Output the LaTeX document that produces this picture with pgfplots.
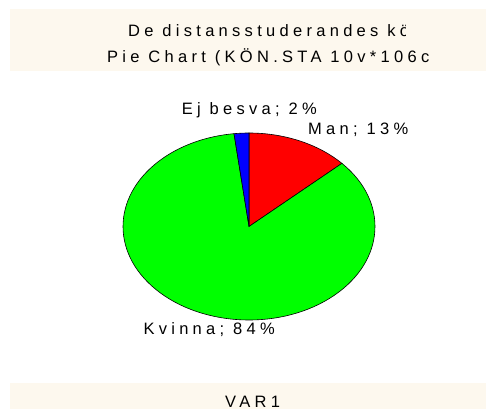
\documentclass[border=0pt]{standalone}
\usepackage{fontspec}
\setmainfont{Liberation Sans}
\newfontfamily\lab[LetterSpace=26]{Liberation Sans}
\usepackage{pgfplots}
\usepackage{pgfplotstable}
\pgfplotsset{compat=1.18}
\definecolor{beige}{HTML}{FDF8EE}
\pgfplotstableread{
label   value
Man     13.2
Kvinna  84.9
Ejbesva 1.9
}\piedata
\begin{document}%
\begin{tikzpicture}[x=1pt,y=1pt,every node/.style={anchor=base west,inner sep=0pt,font=\lab\fontsize{16.5}{19}\selectfont}]
\pgfplotstablegetelem{0}{value}\of\piedata \let\vA\pgfplotsretval
\pgfplotstablegetelem{1}{value}\of\piedata \let\vB\pgfplotsretval
\pgfplotstablegetelem{2}{value}\of\piedata \let\vC\pgfplotsretval
\pgfmathsetmacro\aA{90}
\pgfmathsetmacro\aB{\aA-3.6*\vA}
\pgfmathsetmacro\aC{\aB-3.6*\vB}
\pgfmathsetmacro\aD{\aC-3.6*\vC}
\useasboundingbox (0,0) rectangle (486,409);
\fill[beige] (10,337.5) rectangle (486,400);
\fill[beige] (10,0) rectangle (486,25.7);
\begin{scope}
\clip (0,330) rectangle (405.5,409);
\node at (128,372.3) {De distansstuderandes kön};
\end{scope}
\begin{scope}
\clip (0,330) rectangle (429,409);
\node at (107,346) {Pie Chart (KÖN.STA 10v*106c)};
\end{scope}
\begin{axis}[
  at={(249pt,182.5pt)}, anchor=center,
  scale only axis, width=252pt, height=187pt,
  xmin=-1, xmax=1, ymin=-1, ymax=1,
  hide axis, clip=false]
\fill[red, draw=black, line width=0.6pt] (axis cs:0,0) -- (axis cs:{cos(\aA)},{sin(\aA)}) arc[start angle=\aA, end angle=\aB, x radius=1, y radius=1] -- cycle;
\fill[green, draw=black, line width=0.6pt] (axis cs:0,0) -- (axis cs:{cos(\aB)},{sin(\aB)}) arc[start angle=\aB, end angle=\aC, x radius=1, y radius=1] -- cycle;
\fill[blue, draw=black, line width=0.6pt] (axis cs:0,0) -- (axis cs:{cos(\aC)},{sin(\aC)}) arc[start angle=\aC, end angle=\aD, x radius=1, y radius=1] -- cycle;
\end{axis}
\node at (181.7,294) {Ej besva; 2\%};
\node at (308,274.5) {Man; 13\%};
\node at (143.3,74.7) {Kvinna; 84\%};
\node at (225,2) {VAR1};
\end{tikzpicture}%
\end{document}
